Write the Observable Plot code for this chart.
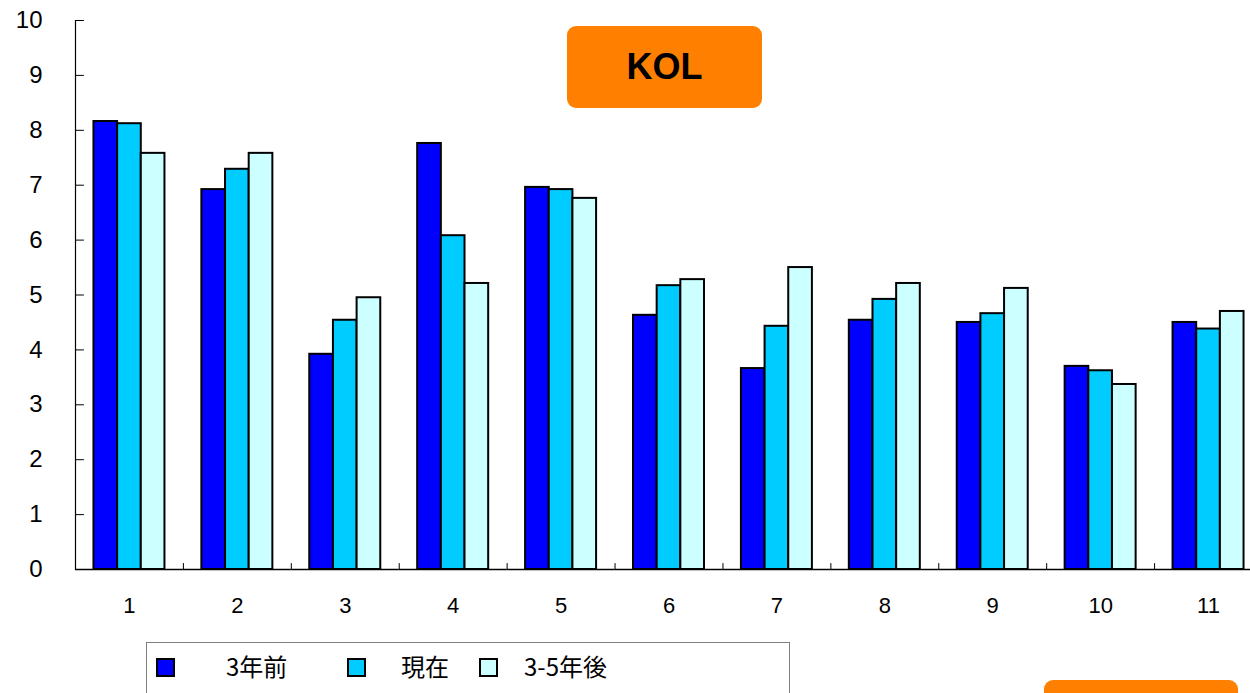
<!DOCTYPE html>
<html><head><meta charset="utf-8">
<script src="https://cdn.jsdelivr.net/npm/d3@7"></script>
<script src="https://cdn.jsdelivr.net/npm/@observablehq/plot@0.6"></script>
<style>
html,body{margin:0;padding:0;background:#fff;overflow:hidden;}
#wrap{position:relative;width:1250px;height:693px;overflow:hidden;font-family:"Liberation Sans",Arial,sans-serif;}
#chart svg{display:block;}
#kol{position:absolute;left:567px;top:26px;width:195px;height:82px;background:#FF8000;border-radius:9px;display:flex;align-items:center;justify-content:center;font-weight:bold;font-size:36px;color:#000;font-family:"Liberation Sans",Arial,sans-serif;}
#legend{position:absolute;left:146px;top:642px;width:644px;height:70px;border:1px solid #7f7f7f;box-sizing:border-box;background:#fff;}
.sw{position:absolute;top:15px;width:19px;height:19px;box-sizing:border-box;border:2px solid #000;}
.lt{position:absolute;top:11px;font-size:24px;line-height:24px;font-family:"Noto Sans CJK JP","Liberation Sans",sans-serif;color:#000;white-space:nowrap;}
#box2{position:absolute;left:1044px;top:680px;width:194px;height:60px;background:#FF8000;border-radius:9px;}
</style>
</head><body>
<div id="wrap">
  <div id="chart"></div>
  <div id="kol">KOL</div>
  <div id="legend"></div>
  <div id="box2"></div>
</div>
<script>
// ---- data ----
const categories = ["1","2","3","4","5","6","7","8","9","10","11"];
const series = ["3年前","現在","3-5年後"];
const before = [8.16, 6.92, 3.92, 7.76, 6.96, 4.63, 3.66, 4.54, 4.50, 3.70, 4.50];
const current = [8.12, 7.29, 4.54, 6.08, 6.92, 5.17, 4.43, 4.92, 4.66, 3.62, 4.38];
const after = [7.58, 7.58, 4.95, 5.21, 6.76, 5.28, 5.50, 5.21, 5.12, 3.37, 4.70];
const yTicks = [0,1,2,3,4,5,6,7,8,9,10];
const colors = ["#0000FF", "#00CCFF", "#CCFFFF"];

// ---- build table ----
const seriesValues = [before, current, after];
const rows = categories.flatMap((c, i) => series.map((s, j) => ({category: c, series: s, value: seriesValues[j][i]})));

const lineShape = {draw(context, l) { context.moveTo(0, 0); context.lineTo(0, -l); }};

const chart = Plot.plot({
  width: 1262, height: 642,
  marginTop: 20, marginBottom: 73, marginLeft: 75, marginRight: 0,
  style: {fontFamily: "Liberation Sans, Arial, sans-serif", maxWidth: "none", background: "transparent", overflow: "visible", color: "#000"},
  fx: {domain: categories, padding: 0, round: false},
  x: {domain: series, paddingInner: 0, paddingOuter: 0.78, round: false, axis: null},
  y: {domain: [0, 10]},
  color: {domain: series, range: colors},
  marks: [
    Plot.barY(rows, {fx: "category", x: "series", y: "value", fill: "series", stroke: "#000", strokeWidth: 2}),
    Plot.ruleY([0], {stroke: "#000", strokeWidth: 1.5}),
    Plot.frame({anchor: "left", facet: "super", stroke: "#000", strokeWidth: 1.2}),
    Plot.vector(yTicks, {y: d => d, fx: () => categories[0], frameAnchor: "left", anchor: "start", length: 8, rotate: 90, shape: lineShape, stroke: "#000", strokeWidth: 1}),
    Plot.vector([0], {frameAnchor: "bottom-left", anchor: "start", length: 6, rotate: 0, shape: lineShape, stroke: "#000", strokeWidth: 1}),
    Plot.axisY(yTicks, {tickSize: 0, tickPadding: 33, fontSize: 24, label: null, tickFormat: d3.format("d")}),
    Plot.axisFx({anchor: "bottom", tickSize: 0, tickPadding: 28, fontSize: 22, label: null})
  ]
});
document.getElementById("chart").appendChild(chart);

// ---- legend ----
const legendSwatchX = [9, 200, 332];
const legendTextX = [79, 254, 377];
const legend = document.getElementById("legend");
series.forEach((s, i) => {
  const sw = document.createElement("div");
  sw.className = "sw";
  sw.style.left = legendSwatchX[i] + "px";
  sw.style.background = colors[i];
  legend.appendChild(sw);
  const t = document.createElement("div");
  t.className = "lt";
  t.style.left = legendTextX[i] + "px";
  t.textContent = s;
  legend.appendChild(t);
});
</script>
</body></html>
